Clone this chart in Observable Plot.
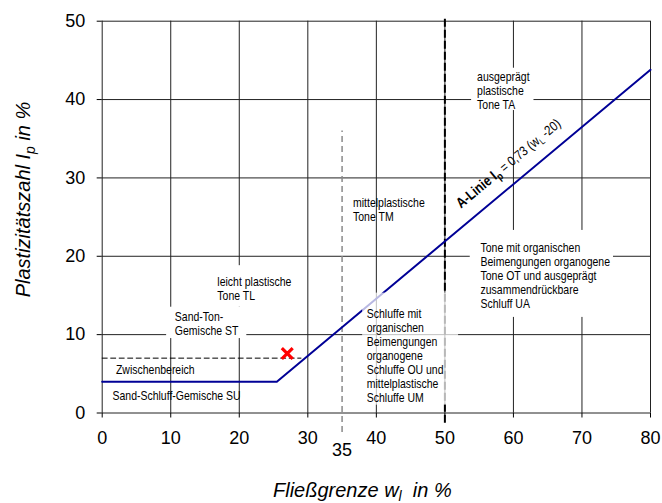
<!DOCTYPE html>
<html>
<head>
<meta charset="utf-8">
<script src="https://cdn.jsdelivr.net/npm/d3@7"></script>
<script src="https://cdn.jsdelivr.net/npm/@observablehq/plot@0.6"></script>
<style>
  body { margin: 0; background: #fff; }
</style>
</head>
<body>
<div id="chart"></div>
<script>
// Plasticity chart (Casagrande): liquid limit w_L vs plasticity index I_p
const xTicks = [0, 10, 20, 30, 40, 50, 60, 70, 80];
const yTicks = [0, 10, 20, 30, 40, 50];

// A-Linie: I_p = 0,73 (w_L - 20), with a horizontal floor at I_p = 4
const aSlope = 0.73;
const aOffset = 20;
const aFloor = 4;
const aLineW = [0, aFloor / aSlope + aOffset, 80];
const aLineIp = aLineW.map(w => Math.max(aFloor, aSlope * (w - aOffset)));

// Upper bound of the intermediate zone (Zwischenbereich)
const zwischenW = [0, 29];
const zwischenIp = [7, 7];

// Boundary lines on the liquid limit axis
const boundaryTM = 35;
const boundaryTA = 50;

// Sample point
const sampleW = [27];
const sampleIp = [7.6];

// Zone labels, positioned in chart units
const zoneText = [
  "ausgeprägt\nplastische\nTone TA",
  "mittelplastische\nTone TM",
  "Tone mit organischen\nBeimengungen organogene\nTone OT und ausgeprägt\nzusammendrückbare\nSchluff UA",
  "Schluffe mit\norganischen\nBeimengungen\norganogene\nSchluffe OU und\nmittelplastische\nSchluffe UM",
  "leicht plastische\nTone TL",
  "Sand-Ton-\nGemische ST",
  "Zwischenbereich",
  "Sand-Schluff-Gemische SU"
];
const zoneW = [54.7, 36.6, 55.2, 38.6, 16.8, 10.6, 2.0, 1.5];
const zoneIp = [41.1, 26.0, 17.6, 7.35, 15.9, 11.4, 5.55, 2.2];

// Blank panels behind some of the zone labels
const panelW1 = [53.9, 53.7, 15.2, 9.4];
const panelW2 = [63.0, 74.6, 29.0, 21.1];
const panelIp1 = [38.6, 12.2, 13.5, 9.5];
const panelIp2 = [44.0, 23.3, 18.8, 13.5];

const aLabel = "A-Linie Ip = 0,73 (wL -20)";

const idx = n => d3.range(n);
const labelFont = "'Liberation Sans', Arial, sans-serif";
const squeeze = 0.84; // horizontal squeeze giving the labels a narrow face

const chart = Plot.plot({
  width: 662,
  height: 503,
  marginLeft: 101.7,
  marginRight: 12,
  marginTop: 20.7,
  marginBottom: 90.5,
  style: { fontFamily: "'Liberation Sans', Arial, sans-serif", background: "#fff", color: "#000" },
  x: { domain: [0, 80] },
  y: { domain: [0, 50] },
  marks: [
    Plot.gridX(xTicks, { stroke: "#222", strokeOpacity: 1 }),
    Plot.gridY(yTicks, { stroke: "#222", strokeOpacity: 1 }),
    Plot.axisX(xTicks, { tickSize: 5, tickPadding: 13, fontSize: 18, label: null }),
    Plot.axisX([boundaryTM], { tickSize: 0, tickPadding: 30, fontSize: 18, label: null }),
    Plot.axisY(yTicks, { tickSize: 5, tickPadding: 12, fontSize: 18, label: null }),
    Plot.rect(idx(panelW1.length), {
      x1: i => panelW1[i], x2: i => panelW2[i], y1: i => panelIp1[i], y2: i => panelIp2[i],
      fill: "#fff"
    }),
    Plot.ruleX([boundaryTM], { y1: -2.5, y2: 36, stroke: "#8a8a8a", strokeWidth: 1.5, strokeDasharray: "6,4" }),
    Plot.ruleX([boundaryTA], { y1: -1.3, y2: 50.6, stroke: "#000", strokeWidth: 2, strokeDasharray: "8,3" }),
    Plot.line(idx(zwischenW.length), {
      x: i => zwischenW[i], y: i => zwischenIp[i], stroke: "#000", strokeWidth: 1, strokeDasharray: "5,3.5"
    }),
    Plot.line(idx(aLineW.length), {
      x: i => aLineW[i], y: i => aLineIp[i], stroke: "#000096", strokeWidth: 2
    }),
    Plot.dot(idx(sampleW.length), {
      x: i => sampleW[i], y: i => sampleIp[i], symbol: "times", r: 5, stroke: "#ff0000", strokeWidth: 3.2
    }),
    // translucent panel behind the OU/UM label
    Plot.rect([0], { x1: 38, x2: 52, y1: 1, y2: 15.3, fill: "#fff", fillOpacity: 0.72 }),
    Plot.text(idx(zoneText.length), {
      x: i => zoneW[i], y: i => zoneIp[i], text: i => zoneText[i],
      textAnchor: "start", lineAnchor: "middle", lineHeight: 1.12,
      fontSize: 12.5, fontFamily: labelFont, fill: "#000"
    }),
    Plot.text([0], {
      x: 59.3, y: 31.8, text: () => aLabel,
      rotate: -39.7, textAnchor: "middle", lineAnchor: "middle",
      fontSize: 13, fontFamily: labelFont, fill: "#000"
    }),
    Plot.text([0], {
      frameAnchor: "left", text: () => "Plastizitätszahl Ip in %",
      rotate: -90, dx: -78.7, dy: -17.6, textAnchor: "middle", lineAnchor: "middle",
      fontSize: 20, fontStyle: "italic", fill: "#000"
    }),
    Plot.text([0], {
      frameAnchor: "bottom", text: () => "Fließgrenze wl  in %",
      dx: -14, dy: 83.5, textAnchor: "middle", lineAnchor: "bottom",
      fontSize: 20, fontStyle: "italic", fill: "#000"
    })
  ]
});

// Find the text element whose content (lines joined) equals str
function findText(svg, str) {
  const flat = str.replace(/\n/g, "");
  return Array.from(svg.querySelectorAll("text")).find(t => t.textContent === flat);
}

// Rebuild a single-line text mark with bold runs and subscripts
function richText(svg, str, parts) {
  const node = findText(svg, str);
  if (!node) return;
  const t = d3.select(node);
  t.text(null);
  let shift = 0;
  for (const p of parts) {
    const s = t.append("tspan").text(p.t);
    if (p.size) s.attr("font-size", p.size);
    if (p.weight) s.attr("font-weight", p.weight);
    const want = p.sub || 0;
    if (want !== shift) { s.attr("dy", want - shift); shift = want; }
  }
}

// Narrow a label horizontally
function squeezeText(svg, str) {
  const node = findText(svg, str);
  if (!node) return;
  const tr = node.getAttribute("transform") || "";
  node.setAttribute("transform", `${tr} scale(${squeeze},1)`);
}

zoneText.forEach(s => squeezeText(chart, s));
squeezeText(chart, aLabel);

richText(chart, aLabel, [
  { t: "A-Linie I", weight: "bold", size: 14.5 },
  { t: "p", weight: "bold", size: 10.5, sub: 3.5 },
  { t: " = 0,73 (w", size: 13.5 },
  { t: "L", size: 9, sub: 3 },
  { t: " -20)", size: 13.5 }
]);
richText(chart, "Plastizitätszahl Ip in %", [
  { t: "Plastizitätszahl I" },
  { t: "p", size: 14, sub: 5 },
  { t: " in %" }
]);
richText(chart, "Fließgrenze wl  in %", [
  { t: "Fließgrenze w" },
  { t: "l", size: 14, sub: 4 },
  { t: "  in %" }
]);

document.getElementById("chart").appendChild(chart);
</script>
</body>
</html>
